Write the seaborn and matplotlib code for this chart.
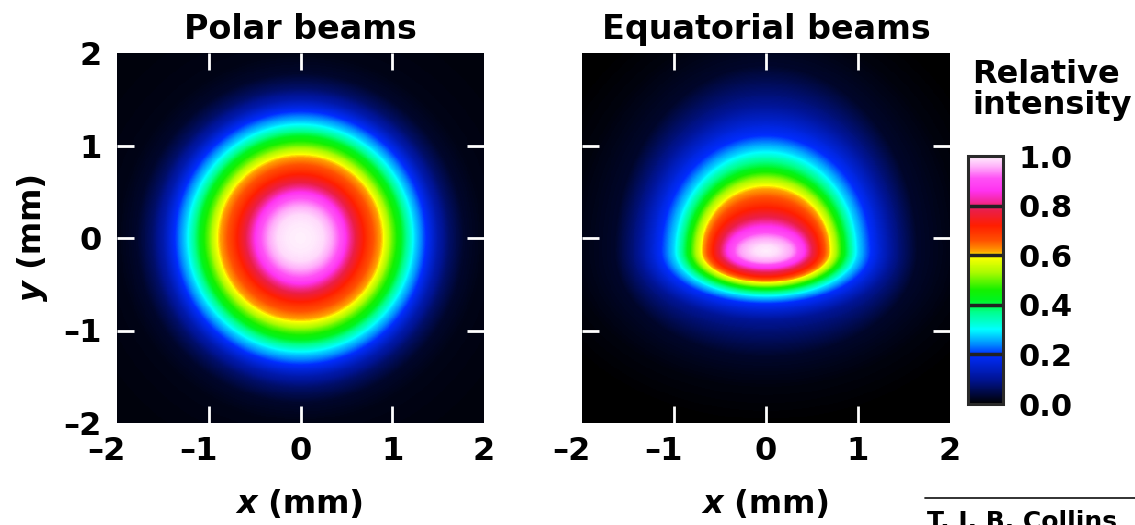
import numpy as np
import pandas as pd
import matplotlib
matplotlib.use("Agg")
import matplotlib.pyplot as plt
from matplotlib.colors import LinearSegmentedColormap
from matplotlib.lines import Line2D
from matplotlib.transforms import ScaledTranslation
import seaborn as sns

# ---------------- data ----------------
panel_titles = ["Polar beams", "Equatorial beams"]
axis_tick_values = [-2, -1, 0, 1, 2]
axis_tick_labels = ["\u20132", "\u20131", "0", "1", "2"]
inner_tick_values = [-1, 0, 1]
axis_unit = " (mm)"

# Polar beams: azimuthally symmetric spot, radius (mm) -> relative intensity
polar_radius_mm = [0.00, 0.15, 0.25, 0.35, 0.45, 0.55, 0.72, 0.90, 1.00, 1.10, 1.25, 1.37, 1.50, 1.62, 1.78, 2.00, 2.40, 3.00]
polar_intensity = [1.00, 0.995, 0.985, 0.95, 0.90, 0.81, 0.70, 0.60, 0.50, 0.42, 0.28, 0.20, 0.12, 0.07, 0.03, 0.015, 0.010, 0.008]

# Equatorial beams: iso-intensity contour extents measured from the peak
eq_peak_y_mm = -0.14
eq_levels = [0.00, 0.01, 0.03, 0.10, 0.20, 0.28, 0.42, 0.60, 0.72, 0.80, 0.88, 0.95, 0.99, 1.00]
eq_half_width_mm = [2.60, 2.10, 1.64, 1.38, 1.14, 1.00, 0.86, 0.70, 0.58, 0.48, 0.40, 0.28, 0.12, 0.00]
eq_extent_up_mm = [2.80, 2.40, 2.00, 1.58, 1.25, 1.10, 0.90, 0.70, 0.47, 0.34, 0.24, 0.14, 0.06, 0.00]
eq_extent_down_mm = [1.90, 1.47, 1.14, 0.75, 0.57, 0.50, 0.42, 0.34, 0.28, 0.22, 0.17, 0.12, 0.05, 0.00]

cbar_ticks = [0.0, 0.2, 0.4, 0.6, 0.8, 1.0]
cbar_tick_labels = ["0.0", "0.2", "0.4", "0.6", "0.8", "1.0"]
cbar_title = ["Relative", "intensity"]
credit_text = "T. J. B. Collins"

cmap_positions = [0.00, 0.10, 0.20, 0.24, 0.30, 0.37, 0.42, 0.46, 0.53, 0.595, 0.615,
                  0.66, 0.72, 0.78, 0.82, 0.86, 0.91, 0.96, 1.00]
cmap_colors = ["#000000", "#001496", "#002dff", "#008cff", "#00ffff", "#00ff8c", "#00f51e",
               "#14f000", "#aafa00", "#ffff00", "#ffa000", "#ff5000", "#ff1e00", "#eb1e46",
               "#f528a0", "#ff32f0", "#ff50f5", "#ffb4fa", "#fff0fc"]

# ---------------- fields on a grid ----------------
N = 400
centers = -2 + (np.arange(N) + 0.5) * 4.0 / N
x_cells = centers
y_cells = centers[::-1]                      # first row is the top (y = +2)
X, Y = np.meshgrid(x_cells, y_cells)

polar_field = np.interp(np.hypot(X, Y), polar_radius_mm, polar_intensity)

fine_levels = np.linspace(0.0, 1.0, 501)
hw = np.interp(fine_levels, eq_levels, eq_half_width_mm)
up = np.interp(fine_levels, eq_levels, eq_extent_up_mm)
dn = np.interp(fine_levels, eq_levels, eq_extent_down_mm)
dy = Y - eq_peak_y_mm
eq_field = np.zeros_like(X)
for lev, a, bu, bd in zip(fine_levels, hw, up, dn):
    b = np.where(dy > 0, bu, bd)
    g = (X / max(a, 1e-4)) ** 2 + (dy / np.maximum(b, 1e-4)) ** 2
    eq_field[g <= 1.0] = lev

fields = [polar_field, eq_field]

# ---------------- style ----------------
sns.set_style("white")
plt.rcParams["font.family"] = ["DejaVu Sans"]
plt.rcParams["font.weight"] = "bold"
plt.rcParams["axes.titleweight"] = "bold"
plt.rcParams["text.color"] = "black"
plt.rcParams["axes.labelcolor"] = "black"
plt.rcParams["xtick.labelcolor"] = "black"
plt.rcParams["ytick.labelcolor"] = "black"

W, H = 1135, 525
fig = plt.figure(figsize=(W / 100, H / 100), dpi=100)


def fx(px):
    return px / W


def fy(py):
    return 1 - py / H


ax_boxes = [(117, 53, 484, 423), (582, 53, 950, 423)]
axes = [fig.add_axes([fx(l), fy(b), fx(r - l), (b - t) / H]) for l, t, r, b in ax_boxes]
cax = fig.add_axes([fx(968), fy(404), fx(1003 - 968), (404 - 156) / H])

cmap = LinearSegmentedColormap.from_list("beam", list(zip(cmap_positions, cmap_colors)), N=512)


def xpos(v):
    return (v + 2) / 4.0 * N


def ypos(v):
    return (2 - v) / 4.0 * N


for k, ax in enumerate(axes):
    df = pd.DataFrame(fields[k], index=np.round(y_cells, 3), columns=np.round(x_cells, 3))
    sns.heatmap(df, ax=ax, cmap=cmap, vmin=0, vmax=1,
                cbar=(k == 1), cbar_ax=cax if k == 1 else None,
                xticklabels=False, yticklabels=False, rasterized=True, linewidths=0)
    ax.set_axisbelow(False)
    ax.set_xlabel("")
    ax.set_ylabel("")
    ax.set_title(panel_titles[k], fontsize=24, fontweight="bold", pad=10, color="black")

    # labelled major ticks (no marks) and white inner marks as minor ticks
    ax.xaxis.remove_overlapping_locs = False
    ax.yaxis.remove_overlapping_locs = False
    ax.set_xticks([xpos(v) for v in axis_tick_values])
    ax.set_xticklabels(axis_tick_labels)
    ax.set_yticks([ypos(v) for v in axis_tick_values])
    ax.set_yticklabels(axis_tick_labels if k == 0 else [""] * len(axis_tick_values))
    ax.set_xticks([xpos(v) for v in inner_tick_values], minor=True)
    ax.set_yticks([ypos(v) for v in inner_tick_values], minor=True)

    ax.tick_params(which="major", length=0, labelsize=23, labelcolor="black")
    ax.tick_params(axis="x", which="major", pad=9)
    ax.tick_params(axis="y", which="major", pad=11)
    ax.tick_params(which="minor", direction="in", length=12.5, width=2.0, color="white",
                   top=True, bottom=True, left=True, right=True,
                   labelbottom=False, labelleft=False)
    for lab in ax.get_xticklabels() + ax.get_yticklabels():
        lab.set_rotation(0)
        lab.set_fontweight("bold")
    # keep the digit of negative labels centred on its tick
    for lab in ax.get_xticklabels():
        if lab.get_text().startswith("\u2013"):
            lab.set_ha("right")
            lab.set_transform(lab.get_transform() + ScaledTranslation(0.09, 0, fig.dpi_scale_trans))

# colour bar
cb = axes[1].collections[0].colorbar
cb.set_ticks(cbar_ticks)
cb.set_ticklabels(cbar_tick_labels)
cb.outline.set_visible(True)
cb.outline.set_linewidth(2.2)
cb.outline.set_edgecolor("#2a2a2a")
cax.tick_params(length=0, pad=11, labelsize=22, labelcolor="black")
for lab in cax.get_yticklabels():
    lab.set_fontweight("bold")
for v in cbar_ticks[1:-1]:
    cax.axhline(v, color="#222222", lw=2.5)

fig.text(fx(972), fy(83), cbar_title[0], fontsize=23, fontweight="bold", ha="left", va="baseline")
fig.text(fx(972), fy(114), cbar_title[1], fontsize=23, fontweight="bold", ha="left", va="baseline")

# axis labels with an italic variable name
renderer = fig.canvas.get_renderer()


def horizontal_label(cx_px, base_py, var):
    t1 = fig.text(0, fy(base_py), var, style="italic", fontsize=23, fontweight="bold", va="baseline")
    t2 = fig.text(0, fy(base_py), axis_unit, fontsize=23, fontweight="bold", va="baseline")
    w1 = t1.get_window_extent(renderer).width
    w2 = t2.get_window_extent(renderer).width
    x0 = cx_px - (w1 + w2) / 2
    t1.set_x(fx(x0))
    t2.set_x(fx(x0 + w1))


def vertical_label(base_px, cy_py, var):
    t1 = fig.text(fx(base_px), 0, var, style="italic", fontsize=23, fontweight="bold",
                  rotation=90, rotation_mode="anchor", ha="left", va="baseline")
    t2 = fig.text(fx(base_px), 0, axis_unit, fontsize=23, fontweight="bold",
                  rotation=90, rotation_mode="anchor", ha="left", va="baseline")
    h1 = t1.get_window_extent(renderer).height
    h2 = t2.get_window_extent(renderer).height
    y0 = (H - cy_py) - (h1 + h2) / 2
    t1.set_y(y0 / H)
    t2.set_y((y0 + h1) / H)


horizontal_label(300, 513, "x")
horizontal_label(766, 513, "x")
vertical_label(41, 237, "y")

# credit line
fig.add_artist(Line2D([fx(925), 1.0], [fy(498), fy(498)], transform=fig.transFigure,
                      color="#222222", lw=1.3))
fig.text(fx(927), fy(529), credit_text, fontsize=18, fontweight="bold", ha="left", va="baseline")

fig.savefig("out.png", dpi=100)
